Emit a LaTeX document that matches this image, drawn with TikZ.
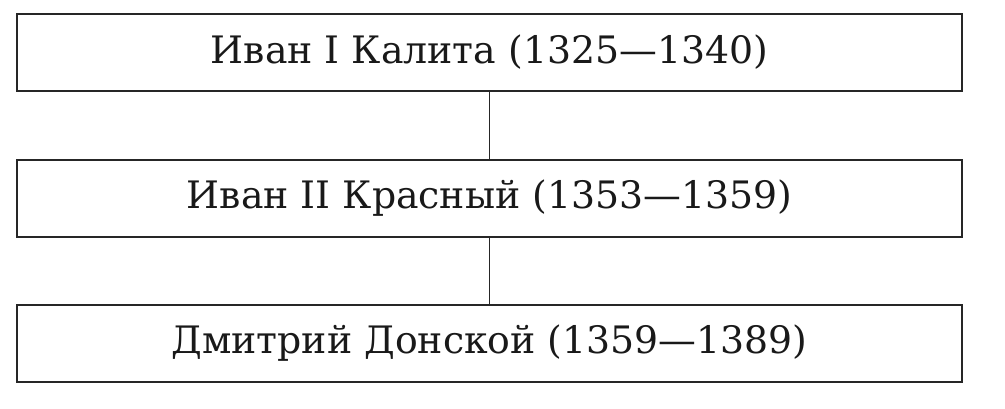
\documentclass[tikz,border=0pt]{standalone}
\usepackage{fontspec}
\setmainfont{DejaVu Serif}
\usepackage{tikz}

\begin{document}
\begin{tikzpicture}[x=1pt,y=1pt,
            ruler node/.style={rectangle,draw=black!85,line width=1.9pt,minimum width=945pt,minimum height=77pt,inner sep=0pt,text=black!90,font=\fontsize{37.8}{42}\selectfont},
            ]
            \useasboundingbox (0,0) rectangle (1005,409);

            \node[ruler node] (kalita) at (489.5,356.5) {Иван I Калита (1325—1340)};
            \node[ruler node] (krasny) at (489.5,210.5) {Иван II Красный (1353—1359)};
            \node[ruler node] (donskoy) at (489.5,65.5) {Дмитрий Донской (1359—1389)};

            \draw[line width=1.8pt,black!85] (kalita) -- (krasny);
            \draw[line width=1.8pt,black!85] (krasny) -- (donskoy);
        \end{tikzpicture}
\end{document}
